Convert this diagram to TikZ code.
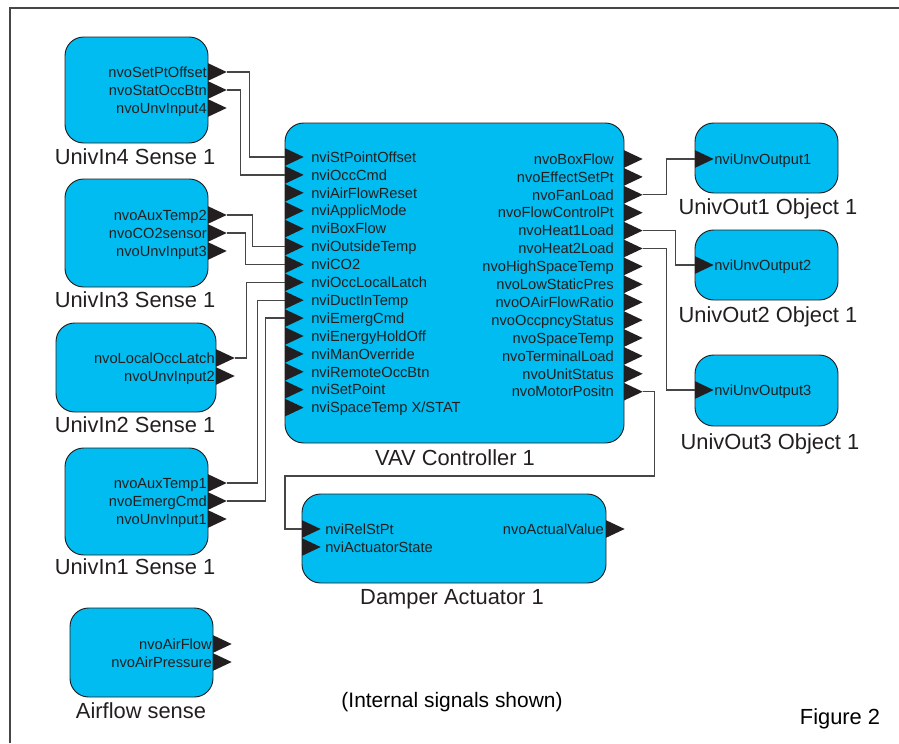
\documentclass[tikz,border=0pt]{standalone}
\usepackage{fontspec}
\setmainfont{Liberation Sans}
\usepackage{tikz}
\usetikzlibrary{fit}

\definecolor{lonblue}{RGB}{0,188,240}
\definecolor{inkgray}{RGB}{35,31,32}
\definecolor{wiregray}{RGB}{70,70,70}

\begin{document}
\begin{tikzpicture}[x=0.75pt,y=-0.75pt,
  blk/.style={draw=inkgray,fill=lonblue,line width=0.7pt,rounded corners=14pt,inner sep=0pt},
  port/.style={rectangle,inner sep=0pt,outer sep=0pt,minimum width=14pt,minimum height=13.2pt,anchor=west,
    path picture={\fill[inkgray] (path picture bounding box.north west) -- (path picture bounding box.east)
      -- (path picture bounding box.south west) -- cycle;}},
  ptxt/.style={font=\fontsize{11}{13}\selectfont,text=inkgray,inner sep=0pt,text height=7.9pt,text depth=0pt},
  lbl/.style={font=\fontsize{16.4}{19}\selectfont,text=inkgray,inner sep=0pt,text height=11.7pt,text depth=0pt},
  wire/.style={draw=wiregray,line width=1pt}]
\useasboundingbox (0,0) rectangle (899,743);
\draw[wiregray,line width=1.1pt] (10,743) -- (10,8) -- (899,8);

% sensor blocks on the left
\node[blk,fit={(65,37) (208,143)}] (in4) {};
\node[port] (s4a) at (208,72) {};
\node[port] (s4b) at (208,90) {};
\node[port] (s4c) at (208,108) {};
\node[ptxt,anchor=east] (t4a) at (207,72) {nvoSetPtOffset};
\node[ptxt,anchor=east] (t4b) at (207,90) {nvoStatOccBtn};
\node[ptxt,anchor=east] (t4c) at (207,108) {nvoUnvInput4};
\node[lbl] (in4lbl) at (135,157) {UnivIn4 Sense 1};

\node[blk,fit={(65,179) (208,287)}] (in3) {};
\node[port] (s3a) at (208,215) {};
\node[port] (s3b) at (208,233) {};
\node[port] (s3c) at (208,251) {};
\node[ptxt,anchor=east] (t3a) at (207,215) {nvoAuxTemp2};
\node[ptxt,anchor=east] (t3b) at (207,233) {nvoCO2sensor};
\node[ptxt,anchor=east] (t3c) at (207,251) {nvoUnvInput3};
\node[lbl] (in3lbl) at (135,300) {UnivIn3 Sense 1};

\node[blk,fit={(56,323) (216,412)}] (in2) {};
\node[port] (s2a) at (216,358) {};
\node[port] (s2b) at (216,376) {};
\node[ptxt,anchor=east] (t2a) at (215,358) {nvoLocalOccLatch};
\node[ptxt,anchor=east] (t2b) at (215,376) {nvoUnvInput2};
\node[lbl] (in2lbl) at (135,425) {UnivIn2 Sense 1};

\node[blk,fit={(65,448) (208,555)}] (in1) {};
\node[port] (s1a) at (208,483) {};
\node[port] (s1b) at (208,501) {};
\node[port] (s1c) at (208,519) {};
\node[ptxt,anchor=east] (t1a) at (207,483) {nvoAuxTemp1};
\node[ptxt,anchor=east] (t1b) at (207,501) {nvoEmergCmd};
\node[ptxt,anchor=east] (t1c) at (207,519) {nvoUnvInput1};
\node[lbl] (in1lbl) at (135,567) {UnivIn1 Sense 1};

\node[blk,fit={(70,608) (213,697)}] (air) {};
\node[port] (sfa) at (213,644) {};
\node[port] (sfb) at (213,662) {};
\node[ptxt,anchor=east] (tfa) at (212,644) {nvoAirFlow};
\node[ptxt,anchor=east] (tfb) at (212,662) {nvoAirPressure};
\node[lbl] (airlbl) at (141,711) {Airflow sense};

% controller
\node[blk,fit={(285,123) (624,443)}] (vav) {};
\foreach \t [count=\k] in {nviStPointOffset,nviOccCmd,nviAirFlowReset,nviApplicMode,
    nviBoxFlow,nviOutsideTemp,nviCO2,nviOccLocalLatch,nviDuctInTemp,nviEmergCmd,
    nviEnergyHoldOff,nviManOverride,nviRemoteOccBtn,nviSetPoint,{nviSpaceTemp X/STAT}} {
  \node[port] (vi\k) at (285,139.1+17.9*\k) {};
  \node[ptxt,anchor=west] (tvi\k) at (311,139.1+17.9*\k) {\t};
}
\foreach \t [count=\k] in {nvoBoxFlow,nvoEffectSetPt,nvoFanLoad,nvoFlowControlPt,
    nvoHeat1Load,nvoHeat2Load,nvoHighSpaceTemp,nvoLowStaticPres,nvoOAirFlowRatio,
    nvoOccpncyStatus,nvoSpaceTemp,nvoTerminalLoad,nvoUnitStatus,nvoMotorPositn} {
  \node[port] (vo\k) at (624,141.1+17.9*\k) {};
  \node[ptxt,anchor=east] (tvo\k) at (614,141.1+17.9*\k) {\t};
}
\node[lbl] (vavlbl) at (455,458) {VAV Controller 1};

% output objects
\node[blk,fit={(695,123) (838,193)}] (out1) {};
\node[port] (o1) at (695,159) {};
\node[ptxt,anchor=west] (to1) at (714,159) {nviUnvOutput1};
\node[lbl] (out1lbl) at (768,207) {UnivOut1 Object 1};

\node[blk,fit={(695,230) (838,300)}] (out2) {};
\node[port] (o2) at (695,265) {};
\node[ptxt,anchor=west] (to2) at (714,265) {nviUnvOutput2};
\node[lbl] (out2lbl) at (768,315) {UnivOut2 Object 1};

\node[blk,fit={(695,355) (838,426)}] (out3) {};
\node[port] (o3) at (695,390) {};
\node[ptxt,anchor=west] (to3) at (714,390) {nviUnvOutput3};
\node[lbl] (out3lbl) at (770,442) {UnivOut3 Object 1};

% damper
\node[blk,fit={(302,494) (606,583)}] (dmp) {};
\node[port] (da1) at (302,529) {};
\node[port] (da2) at (302,547) {};
\node[port] (dq1) at (606,529) {};
\node[ptxt,anchor=west] (tda1) at (325,529) {nviRelStPt};
\node[ptxt,anchor=west] (tda2) at (325,547) {nviActuatorState};
\node[ptxt,anchor=east] (tdq1) at (604,529) {nvoActualValue};
\node[lbl] (dmplbl) at (452,597) {Damper Actuator 1};

\node[lbl,font=\fontsize{15.7}{19}\selectfont,text=black] (note) at (452,700) {(Internal signals shown)};
\node[lbl,text=black] (fig) at (840,717) {Figure 2};

% bindings
\draw[wire] (s4a.east) -- ++(23,0) |- (vi1.west);
\draw[wire] (s4b.east) -- ++(14,0) |- (vi2.west);
\draw[wire] (s3a.east) -- ++(26,0) |- (vi6.west);
\draw[wire] (s3b.east) -- ++(19,0) |- (vi7.west);
\draw[wire] (s2a.east) -- ++(12,0) |- (vi8.west);
\draw[wire] (s1a.east) -- ++(31,0) |- (vi9.west);
\draw[wire] (s1b.east) -- ++(39,0) |- (vi10.west);
\draw[wire] (vo3.east) -- ++(24,0) |- (o1.west);
\draw[wire] (vo5.east) -- ++(33,0) |- (o2.west);
\draw[wire] (vo6.east) -- ++(24,0) |- (o3.west);
\coordinate (dly) at (285,476);
\draw[wire] (vo14.east) -- ++(12,0) |- (dly) |- (da1.west);
\end{tikzpicture}
\end{document}
